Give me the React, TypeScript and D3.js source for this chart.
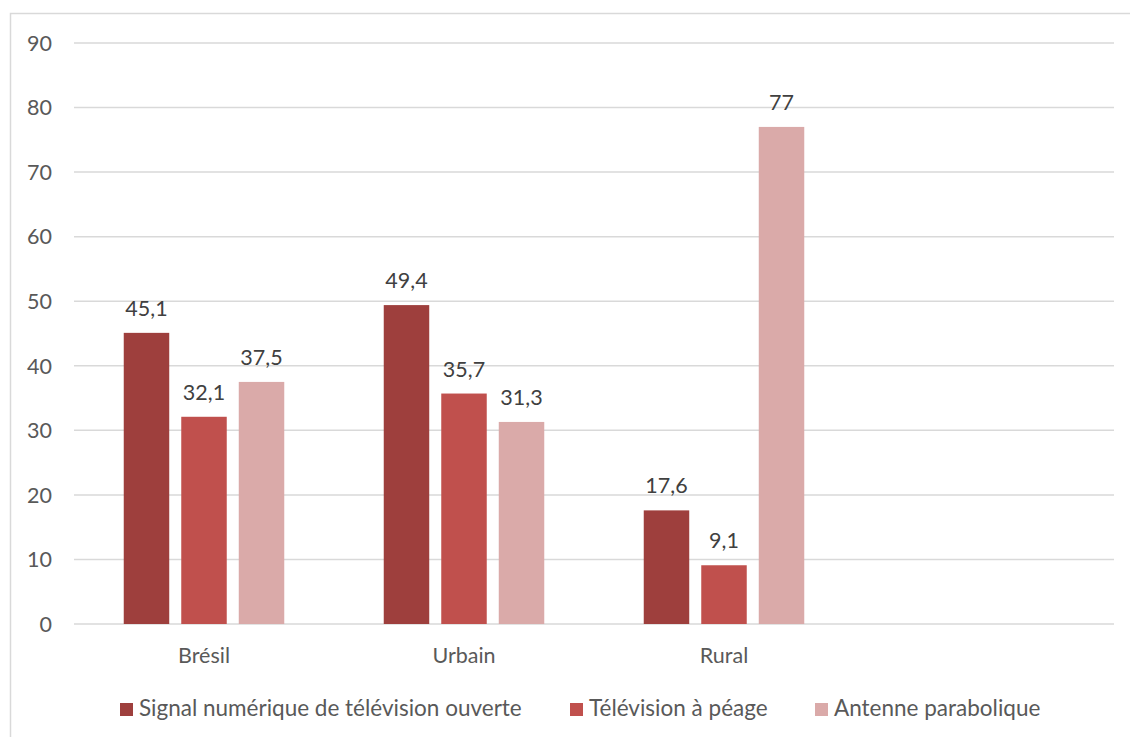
import React from 'react';
import * as d3 from 'd3';

const categories = ['Brésil', 'Urbain', 'Rural', ''];
const seriesNames = ['Signal numérique de télévision ouverte', 'Télévision à péage', 'Antenne parabolique'];
const signalValues = [45.1, 49.4, 17.6];
const peageValues = [32.1, 35.7, 9.1];
const paraboleValues = [37.5, 31.3, 77];
const yTicks = [0, 10, 20, 30, 40, 50, 60, 70, 80, 90];

const COLORS = ['#9E3F3D', '#C0504D', '#DAAAA9'];
const FONT = 'Lato, "Open Sans", sans-serif';
const TEXT = '#595959';

const width = 1130,
    height = 737;

const MARGIN = {
    LEFT: 74,
    RIGHT: 1114,
    TOP: 43,
    BOTTOM: 624
};

const fmt = (v: number) => String(v).replace('.', ',');

const App = () => {
    const series = [signalValues, peageValues, paraboleValues];

    const x = d3.scaleBand<string>().domain(categories).range([MARGIN.LEFT, MARGIN.RIGHT]);
    const inner = d3.scaleBand<string>()
        .domain(seriesNames)
        .range([0, x.bandwidth()])
        .paddingInner(0.209)
        .paddingOuter(0.865);
    const y = d3.scaleLinear().domain([0, 90]).range([MARGIN.BOTTOM, MARGIN.TOP]);

    const legendX = [120, 570, 815];

    return (
        <svg width={width} height={height} style={{ position: 'absolute', left: 0, top: 0, background: '#fff' }}>
            <rect x={10.5} y={13.5} width={width} height={height} fill='#fff' stroke='#D9D9D9' strokeWidth={1.5} />
            <g>
                {yTicks.map(t => (
                    <g key={`tick-${t}`}>
                        <line x1={MARGIN.LEFT} x2={MARGIN.RIGHT} y1={y(t)} y2={y(t)} stroke='#D9D9D9' strokeWidth={1.5} />
                        <text x={52} y={y(t)} dy='0.36em' textAnchor='end' fontFamily={FONT} fontSize={21.5} fill={TEXT}>{t}</text>
                    </g>
                ))}
            </g>
            <g>
                {series.map((vals, si) => vals.map((v, ci) => {
                    const bx = (x(categories[ci]) as number) + (inner(seriesNames[si]) as number);
                    return (
                        <g key={`bar-${si}-${ci}`}>
                            <rect x={bx} y={y(v)} width={inner.bandwidth()} height={y(0) - y(v)} fill={COLORS[si]} />
                            <text x={bx + inner.bandwidth() / 2} y={y(v) - 17} textAnchor='middle' fontFamily={FONT} fontSize={21.5} fill='#404040'>{fmt(v)}</text>
                        </g>
                    );
                }))}
            </g>
            <g>
                {categories.map(c => (
                    <text key={`cat-${c}`} x={(x(c) as number) + x.bandwidth() / 2} y={663} textAnchor='middle' fontFamily={FONT} fontSize={21.5} fill={TEXT}>{c}</text>
                ))}
            </g>
            <g>
                {seriesNames.map((s, i) => (
                    <g key={`legend-${i}`}>
                        <rect x={legendX[i]} y={703} width={13} height={13} fill={COLORS[i]} />
                        <text x={legendX[i] + 19} y={716} fontFamily={FONT} fontSize={22.5} fill={TEXT}>{s}</text>
                    </g>
                ))}
            </g>
        </svg>
    );
};

export default App;
